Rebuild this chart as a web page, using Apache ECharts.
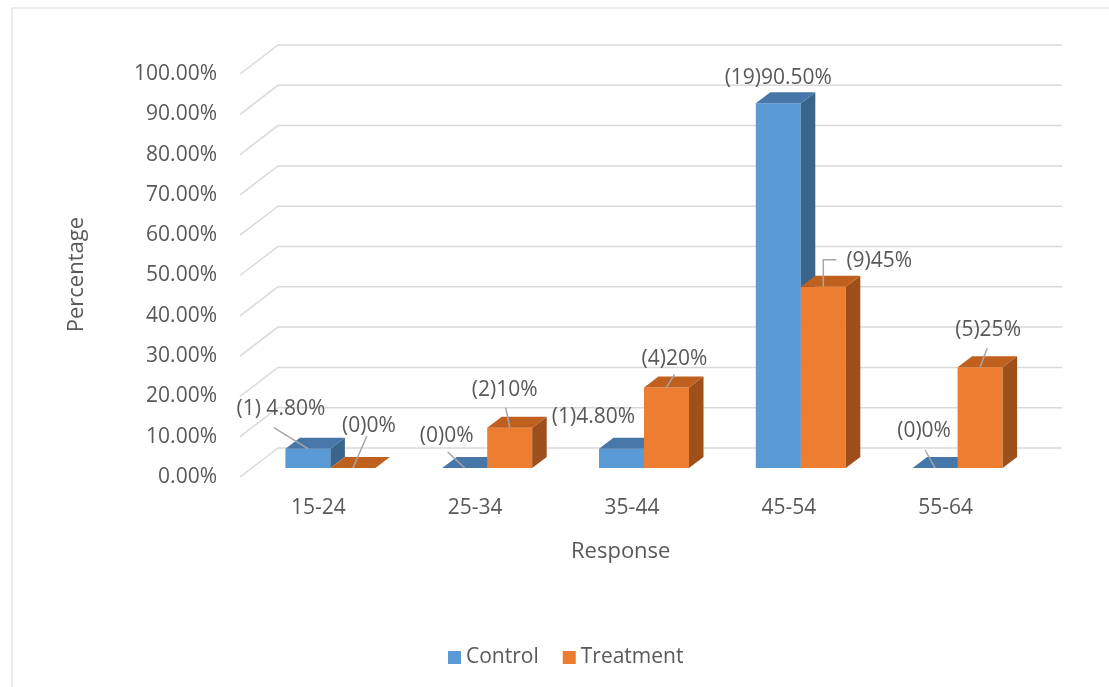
<!DOCTYPE html>
<html>
<head>
<meta charset="utf-8">
<title>Response by age group</title>
<script src="https://cdn.jsdelivr.net/npm/echarts@6/dist/echarts.min.js"></script>
<style>
  html, body { margin:0; padding:0; background:#fff; }
  #chart { width:1109px; height:687px; }
</style>
</head>
<body>
<div id="chart"></div>
<script>
// data
const categories = ['15-24', '25-34', '35-44', '45-54', '55-64'];
const controlPct = [4.8, 0, 4.8, 90.5, 0];
const treatmentPct = [0, 10, 20, 45, 25];
const controlLabels = ['(1) 4.80%', '(0)0%', '(1)4.80%', '(19)90.50%', '(0)0%'];
const treatmentLabels = ['(0)0%', '(2)10%', '(4)20%', '(9)45%', '(5)25%'];
const yTicks = [0, 10, 20, 30, 40, 50, 60, 70, 80, 90, 100];

// label placement (pixels, relative to top-front centre of the bar)
const controlLabelPos = [[-27, -40], [-18, -32], [-28, -32], [0, -25], [-11, -37]];
const treatmentLabelPos = [[16, -42], [-5, -38], [8, -28], [56, -26], [8, -37]];
const controlLeader = [[[-34, -21]], [[-17, -16]], null, null, [[-10, -18]]];
const treatmentLeader = [[[14, -32]], [[-4, -20]], [[8, -13]], [[13, -27], [0, -27]], [[7, -19]]];

const TEXT = '#595959';
const FONT = '"Open Sans", sans-serif';
const WALL_D = [38, -29];   // full floor depth
const FRONT = [12, -9];     // bar front face from the front edge
const BAR_D = [14.5, -11];  // bar depth

const faces = [
    { front:'#5b9bd5', top:'#4677a8', side:'#3a6489' },
    { front:'#ed7d31', top:'#c0601f', side:'#9e4f1a' }
];

function wallRender(params, api) {
    const cs = params.coordSys;
    const y = api.coord([0, api.value(1)])[1];
    const x0 = cs.x;
    return {
        type:'polyline',
        shape:{ points:[[x0, y], [x0 + WALL_D[0], y + WALL_D[1]], [x0 + cs.width + WALL_D[0], y + WALL_D[1]]] },
        style:{ stroke:'#d9d9d9', lineWidth:1.5, fill:null }
    };
}

function barRender(idx, labels, labelPos, leaders) {
    return function (params, api) {
        const i = params.dataIndex;
        const cat = api.value(0);
        const base = api.coord([cat, 0]);
        const top = api.coord([cat, api.value(1)]);
        const w = api.size([1, 0])[0] * 0.287;
        const cx = base[0] + FRONT[0] + (idx === 0 ? -w / 2 : w / 2);
        const x0 = cx - w / 2, x1 = cx + w / 2;
        const yb = base[1] + FRONT[1], yt = top[1] + FRONT[1];
        const dx = BAR_D[0], dy = BAR_D[1];
        const c = faces[idx];
        const children = [
            { type:'polygon', shape:{ points:[[x0, yb], [x1, yb], [x1, yt], [x0, yt]] }, style:{ fill:c.front } },
            { type:'polygon', shape:{ points:[[x1, yb], [x1 + dx, yb + dy], [x1 + dx, yt + dy], [x1, yt]] }, style:{ fill:c.side } },
            { type:'polygon', shape:{ points:[[x0, yt], [x1, yt], [x1 + dx, yt + dy], [x0 + dx, yt + dy]] }, style:{ fill:c.top } }
        ];
        const lead = leaders[i];
        if (lead) {
            const pts = lead.map(p => [cx + p[0], yt + p[1]]);
            pts.push([cx, yt]);
            children.push({ type:'polyline', z2:5, shape:{ points:pts }, style:{ stroke:'#a6a6a6', lineWidth:1.5, fill:null } });
        }
        children.push({
            type:'text', z2:10,
            style:{
                text:labels[i],
                x:cx + labelPos[i][0], y:yt + labelPos[i][1],
                textAlign:'center', textVerticalAlign:'middle',
                fontSize:21, fontFamily:FONT, fill:TEXT
            }
        });
        return { type:'group', children };
    };
}

const myChart = echarts.init(document.getElementById('chart'));
const option = {
    animation:false,
    backgroundColor:'#fff',
    grid:{ left:240, right:85, top:74, bottom:210 },
    legend:{
        left:443, top:642,
        data:['Control', 'Treatment'],
        icon:'rect', itemWidth:13, itemHeight:13, itemGap:24,
        textStyle:{ fontSize:21, color:TEXT, fontFamily:FONT },
        selectedMode:false
    },
    xAxis:{
        type:'category',
        data:categories,
        axisLine:{ show:false },
        axisTick:{ show:false },
        splitLine:{ show:false },
        axisLabel:{ margin:21, fontSize:21, color:TEXT, fontFamily:FONT }
    },
    yAxis:{
        type:'value',
        min:0, max:100, interval:10,
        axisLine:{ show:false },
        axisTick:{ show:false },
        splitLine:{ show:false },
        axisLabel:{
            margin:23, fontSize:21, color:TEXT, fontFamily:FONT,
            formatter:(v)=>v.toFixed(2) + '%'
        }
    },
    graphic:[
        { type:'rect', shape:{ x:12, y:8, width:1120, height:700 }, style:{ fill:null, stroke:'#d9d9d9', lineWidth:1 }, silent:true },
        { type:'text', left:571, top:541, style:{ text:'Response', fontSize:22, fill:TEXT, fontFamily:FONT } },
        { type:'text', left:66, top:217, rotation:Math.PI / 2, style:{ text:'Percentage', fontSize:22, fill:TEXT, fontFamily:FONT } }
    ],
    series:[
        {
            type:'custom', name:'walls', silent:true, z:1,
            renderItem:wallRender,
            data:yTicks.map(v => [0, v])
        },
        {
            type:'custom', name:'Control', z:2,
            itemStyle:{ color:'#5b9bd5' },
            renderItem:barRender(0, controlLabels, controlLabelPos, controlLeader),
            data:controlPct.map((v, i) => [i, v])
        },
        {
            type:'custom', name:'Treatment', z:3,
            itemStyle:{ color:'#ed7d31' },
            renderItem:barRender(1, treatmentLabels, treatmentLabelPos, treatmentLeader),
            data:treatmentPct.map((v, i) => [i, v])
        }
    ]
};
myChart.setOption(option);
</script>
</body>
</html>
